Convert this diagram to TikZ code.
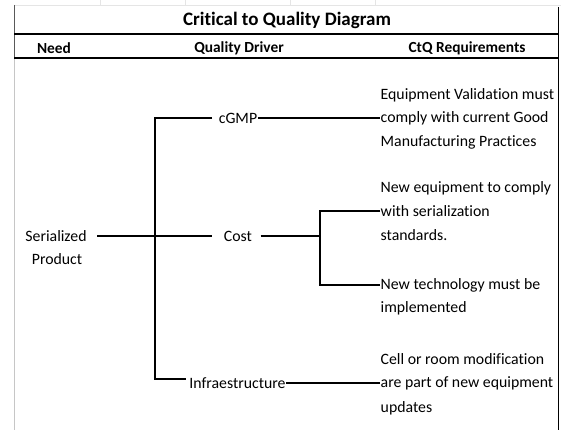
\documentclass[tikz,border=0pt]{standalone}
\usepackage{fontspec}
\setmainfont{Carlito}[Ligatures=NoCommon]
\begin{document}
\begin{tikzpicture}[x=1pt,y=-1pt,
  txt/.style={inner sep=0.5pt,font=\fontsize{15.8}{18}\selectfont},
  req/.style={txt,anchor=west},
  head/.style={inner sep=0pt,font=\bfseries\fontsize{15.4}{18}\selectfont},
  ttl/.style={inner sep=0pt,font=\bfseries\fontsize{19}{21}\selectfont},
  conn/.style={line width=1.3pt},
  grid/.style={gray!20,line width=0.6pt}]
\useasboundingbox (0,0) rectangle (561,430);
\fill[white] (0,0) rectangle (561,430);
% faint spreadsheet grid
\draw[grid] (14,5) -- (561,5);
\foreach \gx in {100,185,290,375}{\draw[grid] (\gx,0) -- (\gx,5);}
% frame
\draw[gray!45,line width=1pt] (14,5) -- (14,430);
\draw[gray!70!black,line width=1pt] (14,5) -- (14,58);
\draw[black,line width=1pt] (558,7) -- (558,430);
\draw[black,line width=1.8pt] (14,34) -- (558,34);
\draw[black,line width=1.3pt] (14,58) -- (558,58);
% header
\node[ttl] (title) at (287,20) {Critical to Quality Diagram};
\node[head] (hneed) at (54,48) {Need};
\node[head] (hdrv) at (239,48) {Quality Driver};
\node[head] (hctq) at (467,48) {CtQ Requirements};
% need
\node[txt] (ser) at (56,236) {Serialized};
\node[txt] (prod) at (57,259) {Product};
% drivers
\node[txt] (cgmp) at (238,118) {cGMP};
\node[txt] (cost) at (238,236) {Cost};
\node[txt] (infra) at (237.5,383) {Infraestructure};
% requirements
\node[req] (r1a) at (380,95) {Equipment Validation must};
\node[req] (r1b) at (380,118) {comply with current Good};
\node[req] (r1c) at (380,142) {Manufacturing Practices};
\node[req] (r2a) at (380,188) {New equipment to comply};
\node[req] (r2b) at (380,211) {with serialization};
\node[req] (r2c) at (380,235) {standards.};
\node[req] (r3a) at (380,285) {New technology must be};
\node[req] (r3b) at (380,308) {implemented};
\node[req] (r4a) at (380,359) {Cell or room modification};
\node[req] (r4b) at (380,383) {are part of new equipment};
\node[req] (r4c) at (380,408) {updates};
% connectors
\coordinate (trunk) at (155,236);
\coordinate (fork) at (320,236);
\draw[conn] ([xshift=10pt]ser.east) -- ([xshift=-11pt]cost.west);
\draw[conn] ([xshift=-6pt]cgmp.west) -| (trunk) |- ([xshift=-3pt,yshift=4pt]infra.west);
\draw[conn] (cgmp.east) -- (r1b.west);
\draw[conn] ([xshift=8pt]cost.east) -- (fork);
\draw[conn] (r2b.west) -| (fork) |- (r3a.west);
\draw[conn] (infra.east) -- (infra.east -| r4b.west);
\end{tikzpicture}
\end{document}
